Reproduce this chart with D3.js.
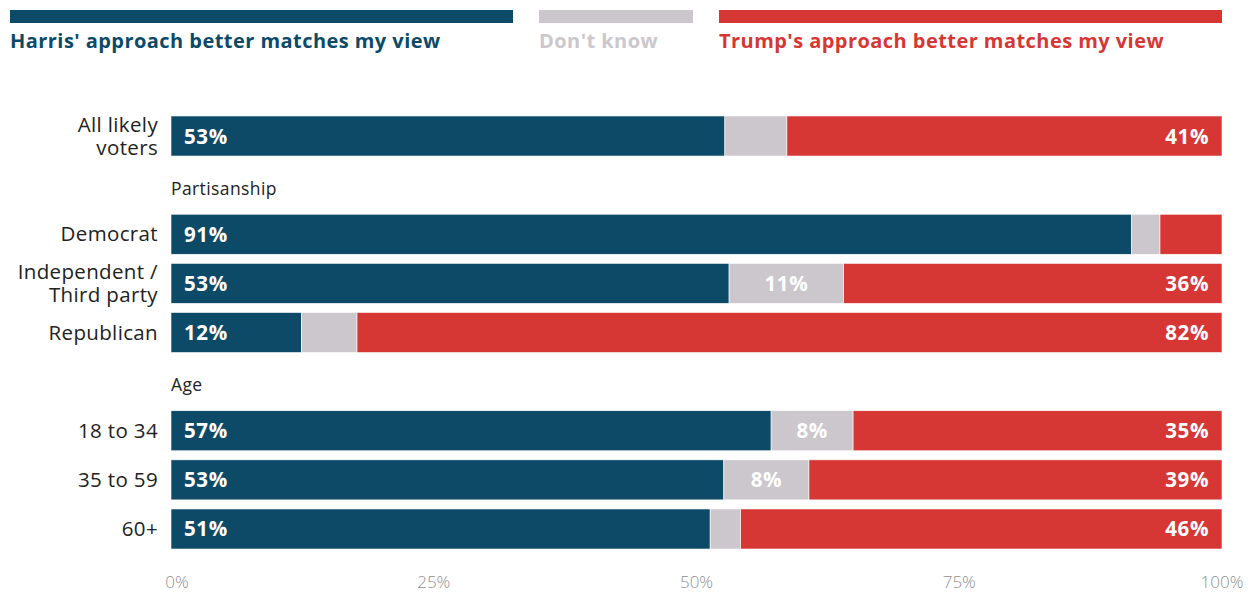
<!DOCTYPE html>
<html>
<head>
<meta charset="utf-8">
<script src="https://cdn.jsdelivr.net/npm/d3@7/dist/d3.min.js"></script>
<style>
  body { margin: 0; background: #fff; }
  text { font-family: "Open Sans", Lato, sans-serif; }
</style>
</head>
<body>
<script>
// rows in drawing order; section headers have no values
var rows = ["all", "hdrParty", "dem", "ind", "rep", "hdrAge", "a1834", "a3559", "a60"];
var rowLabels = {
    all: ["All likely", "voters"],
    dem: ["Democrat"],
    ind: ["Independent /", "Third party"],
    rep: ["Republican"],
    a1834: ["18 to 34"],
    a3559: ["35 to 59"],
    a60: ["60+"]
};
var headers = { hdrParty: "Partisanship", hdrAge: "Age" };

var dataRows = ["all", "dem", "ind", "rep", "a1834", "a3559", "a60"];
var harris   = [52.7, 91.4, 53.1, 12.4, 57.1, 52.6, 51.3];
var dontKnow = [5.9, 2.7, 10.9, 5.3, 7.8, 8.1, 2.9];
var trump    = [41.4, 5.9, 36.0, 82.3, 35.1, 39.3, 45.8];

var seriesNames = ["Harris' approach better matches my view", "Don't know", "Trump's approach better matches my view"];
var seriesColors = ["#0c4a68", "#cbc7cd", "#d63734"];
var ticks = [0, 25, 50, 75, 100];

var w = 1257, h = 593;

var svg = d3.select("body").append("svg")
    .attr("width", w)
    .attr("height", h);

var x = d3.scaleLinear().domain([0, 100]).range([171, 1222]);
var y = d3.scaleBand().domain(rows).range([106.9, 558.1]).padding(0.185);

// legend - bars on top, labels below
var legend = [
    { x0: 10, x1: 513, tx: 10 },
    { x0: 539, x1: 693, tx: 539 },
    { x0: 719, x1: 1222, tx: 719 }
];
legend.forEach(function(l, i) {
    svg.append("rect")
        .attr("x", l.x0).attr("y", 10)
        .attr("width", l.x1 - l.x0).attr("height", 13)
        .attr("fill", seriesColors[i]);
    svg.append("text")
        .attr("x", l.tx).attr("y", 48)
        .attr("font-size", 20)
        .attr("letter-spacing", 0.45)
        .attr("font-weight", "bold")
        .attr("fill", seriesColors[i])
        .text(seriesNames[i]);
});

// stacked data
var table = dataRows.map(function(r, i) {
    return { row: r, harris: harris[i], dk: dontKnow[i], trump: trump[i] };
});
var stack = d3.stack().keys(["harris", "dk", "trump"]);
var layers = stack(table);

var fmt = function(v) { return Math.round(v) + "%"; };

layers.forEach(function(layer, li) {
    var g = svg.append("g");
    g.selectAll("rect")
        .data(layer)
        .enter()
        .append("rect")
        .attr("x", function(d) { return x(d[0]); })
        .attr("y", function(d) { return y(d.data.row); })
        .attr("width", function(d) { return x(d[1]) - x(d[0]); })
        .attr("height", y.bandwidth())
        .attr("fill", seriesColors[li])
        .attr("stroke", "#fff")
        .attr("stroke-width", 0.6);

    // value labels, skip the thin ones
    g.selectAll("text")
        .data(layer.filter(function(d) { return d[1] - d[0] >= 7; }))
        .enter()
        .append("text")
        .attr("x", function(d) {
            if (li === 0) return x(d[0]) + 13;
            if (li === 2) return x(d[1]) - 13;
            return (x(d[0]) + x(d[1])) / 2;
        })
        .attr("y", function(d) { return y(d.data.row) + y.bandwidth() / 2 + 7.5; })
        .attr("text-anchor", li === 0 ? "start" : (li === 2 ? "end" : "middle"))
        .attr("font-size", 20.5)
        .attr("letter-spacing", 0.6)
        .attr("font-weight", "bold")
        .attr("fill", "#fff")
        .text(function(d) { return fmt(d[1] - d[0]); });
});

// category labels
dataRows.forEach(function(r) {
    var lines = rowLabels[r];
    var cy = y(r) + y.bandwidth() / 2;
    var t = svg.append("text")
        .attr("text-anchor", "end")
        .attr("font-size", 20.5)
        .attr("letter-spacing", 0.35)
        .attr("fill", "#222");
    lines.forEach(function(line, i) {
        t.append("tspan")
            .attr("x", 158)
            .attr("y", cy + 7 + (i - (lines.length - 1) / 2) * 23)
            .text(line);
    });
});

// section headers
Object.keys(headers).forEach(function(k) {
    svg.append("text")
        .attr("x", 171)
        .attr("y", y(k) + y.bandwidth() / 2 + 9.5)
        .attr("font-size", 17.5)
        .attr("letter-spacing", 0.4)
        .attr("fill", "#222")
        .text(headers[k]);
});

// x axis labels
svg.append("g").selectAll("text")
    .data(ticks)
    .enter()
    .append("text")
    .attr("x", function(d) { return x(d) + (d === 0 ? 6 : 0); })
    .attr("y", 588)
    .attr("text-anchor", "middle")
    .attr("font-size", 17)
    .attr("font-weight", 300)
    .attr("fill", "#8f8f8f")
    .text(function(d) { return d + "%"; });
</script>
</body>
</html>
